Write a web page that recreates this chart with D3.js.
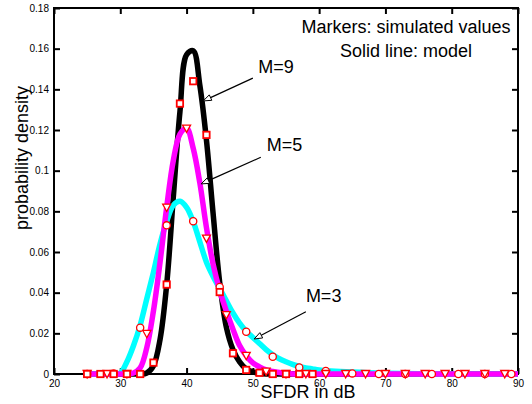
<!DOCTYPE html>
<meta charset="utf-8">

<!-- Load d3.js -->
<script src="https://d3js.org/d3.v7.min.js"></script>

<style>
body {
  margin: 0;
  background: #fff;
  font-family: "Liberation Sans", Arial, Helvetica, sans-serif;
}
</style>

<div id="chart"></div>

<script>

// Model curves (solid lines) on a common dB grid
var modelDb = [25,26,27,28,29,30,31,32,33,34,35,36,37,38,39,40,41,42,43,44,45,46,47,48,49,50,
               51,52,53,54,55,56,57,58,59,60,65,70,75,80,85,90];
var modelM9 = [0,0,0,0,0,0,0,0,0,0.0005,0.004,0.017,0.044,0.087,0.129,0.157,0.159,0.142,0.115,0.079,
               0.045,0.023,0.012,0.006,0.0025,0.001,0.0003,0,0,0,0,0,0,0,0,0,0,0,0,0,0,0];
var modelM5 = [0,0,0,0,0,0,0,0.0005,0.003,0.013,0.031,0.055,0.082,0.105,0.118,0.121,0.111,0.094,0.072,0.054,
               0.041,0.031,0.022,0.014,0.009,0.0055,0.0035,0.002,0.0012,0.0007,0.0004,0,0,0,0,0,0,0,0,0,0,0];
var modelM3 = [0,0,0,0,0,0.0005,0.006,0.014,0.024,0.037,0.050,0.064,0.075,0.083,0.085,0.082,0.075,0.065,0.055,0.048,
               0.042,0.036,0.030,0.025,0.021,0.018,0.015,0.012,0.0095,0.0075,0.006,0.0047,0.0037,0.003,0.0025,0.002,
               0.001,0.0004,0.0001,0,0,0];

// Simulated values (markers)
var simDbM9 = [25,27,29,31,33,35,37,39,41,43,45,47,49,51,53,55,57,59];
var simM9   = [0,0,0,0,0,0.0056,0.044,0.133,0.144,0.1176,0.0403,0.0102,0.002,0.0006,0,0,0,0];
var simDbM5 = [25,28,31,34,37,40,43,46,49,52,55,58,61,64,67,70,73,76,79,82,85,88];
var simM5   = [0,0,0,0.0197,0.0818,0.1207,0.0666,0.029,0.0089,0.0012,0,0,0,0,0,0,0,0,0,0,0,0];
var simDbM3 = [25,29,33,37,41,45,49,53,57,61,65,69,73,77,81,85,89];
var simM3   = [0,0.0003,0.0228,0.0731,0.0751,0.0428,0.0208,0.0085,0.0032,0.0015,0.0003,0,0,0,0,0,0];

// Ticks
var xTicks = [20,30,40,50,60,70,80,90];
var yTicks = [0,0.02,0.04,0.06,0.08,0.1,0.12,0.14,0.16,0.18];

var width = 532, height = 404;
var margin = {left: 54, right: 14, top: 8, bottom: 30};

var svg = d3.select("#chart")
  .append("svg")
    .attr("width", width)
    .attr("height", height);

var x = d3.scaleLinear().domain([20, 90]).range([margin.left, width - margin.right]);
var y = d3.scaleLinear().domain([0, 0.18]).range([height - margin.bottom, margin.top]);

var fmt = function(d){ return String(+d.toFixed(2)); };

// Axes: MATLAB style, ticks pointing inward on all four sides
var gx = svg.append("g")
  .attr("transform", "translate(0," + y(0) + ")")
  .call(d3.axisBottom(x).tickValues(xTicks).tickFormat(fmt).tickSizeInner(-6).tickSizeOuter(0).tickPadding(6));
var gy = svg.append("g")
  .attr("transform", "translate(" + x(20) + ",0)")
  .call(d3.axisLeft(y).tickValues(yTicks).tickFormat(fmt).tickSizeInner(-6).tickSizeOuter(0).tickPadding(5));
var gt = svg.append("g")
  .attr("transform", "translate(0," + y(0.18) + ")")
  .call(d3.axisTop(x).tickValues(xTicks).tickFormat("").tickSizeInner(-6).tickSizeOuter(0));
var gr = svg.append("g")
  .attr("transform", "translate(" + x(90) + ",0)")
  .call(d3.axisRight(y).tickValues(yTicks).tickFormat("").tickSizeInner(-6).tickSizeOuter(0));

[gx, gy, gt, gr].forEach(function(g){
  g.select(".domain").remove();
  g.selectAll(".tick line").attr("stroke", "#000").attr("stroke-width", 2);
  g.selectAll(".tick text")
    .attr("fill", "#000")
    .style("font-family", "'Liberation Sans', Arial, sans-serif")
    .style("font-size", "10px");
});

// plot box
svg.append("rect")
  .attr("x", x(20))
  .attr("y", y(0.18))
  .attr("width", x(90) - x(20))
  .attr("height", y(0) - y(0.18))
  .attr("fill", "none")
  .attr("stroke", "#000")
  .attr("stroke-width", 2);

// Model lines
var line = d3.line()
  .x(function(d){ return x(d[0]); })
  .y(function(d){ return y(d[1]); })
  .curve(d3.curveCatmullRom.alpha(0.5));

var models = [
  {vals: modelM9, color: "#000000"},
  {vals: modelM3, color: "#00ffff"},
  {vals: modelM5, color: "#ff00ff"}
];

models.forEach(function(m){
  svg.append("path")
    .datum(d3.zip(modelDb, m.vals))
    .attr("d", line)
    .attr("fill", "none")
    .attr("stroke", m.color)
    .attr("stroke-width", 5.5)
    .attr("stroke-linejoin", "round");
});

// Markers
var red = "#ff0000";
svg.append("g").selectAll("circle")
  .data(d3.zip(simDbM3, simM3))
  .enter().append("circle")
    .attr("cx", function(d){ return x(d[0]); })
    .attr("cy", function(d){ return y(d[1]); })
    .attr("r", 3.6)
    .attr("fill", "#fff")
    .attr("stroke", red)
    .attr("stroke-width", 1.3);

svg.append("g").selectAll("path")
  .data(d3.zip(simDbM5, simM5))
  .enter().append("path")
    .attr("d", function(d){
      var cx = x(d[0]), cy = y(d[1]);
      return "M" + (cx - 4) + "," + (cy - 3.5) + "L" + (cx + 4) + "," + (cy - 3.5) + "L" + cx + "," + (cy + 3.8) + "Z";
    })
    .attr("fill", "#fff")
    .attr("stroke", red)
    .attr("stroke-width", 1.3);

svg.append("g").selectAll("rect")
  .data(d3.zip(simDbM9, simM9))
  .enter().append("rect")
    .attr("x", function(d){ return x(d[0]) - 3.2; })
    .attr("y", function(d){ return y(d[1]) - 3.2; })
    .attr("width", 6.4)
    .attr("height", 6.4)
    .attr("fill", "#fff")
    .attr("stroke", red)
    .attr("stroke-width", 1.8);

// Annotations (in data units)
var notes = [
  {text: "M=9", at: [50.8, 0.148], tail: [50.0, 0.1455], tip: [42.52, 0.1343]},
  {text: "M=5", at: [52.1, 0.1097], tail: [51.2, 0.1066], tip: [42.2, 0.0935]},
  {text: "M=3", at: [58.0, 0.0354], tail: [58.0, 0.0306], tip: [50.2, 0.0172]}
];

notes.forEach(function(n){
  var x1 = x(n.tail[0]), y1 = y(n.tail[1]), x2 = x(n.tip[0]), y2 = y(n.tip[1]);
  var a = Math.atan2(y2 - y1, x2 - x1), L = 8, w = 3;
  var bx = x2 - L * Math.cos(a), by = y2 - L * Math.sin(a);
  svg.append("line")
    .attr("x1", x1).attr("y1", y1).attr("x2", bx).attr("y2", by)
    .attr("stroke", "#000").attr("stroke-width", 1.2);
  svg.append("path")
    .attr("d", "M" + x2 + "," + y2 +
               "L" + (bx - w * Math.sin(a)) + "," + (by + w * Math.cos(a)) +
               "L" + (bx + w * Math.sin(a)) + "," + (by - w * Math.cos(a)) + "Z")
    .attr("fill", "#fff").attr("stroke", "#000").attr("stroke-width", 1);
  svg.append("text")
    .attr("x", x(n.at[0])).attr("y", y(n.at[1]))
    .style("font-size", "18px")
    .text(n.text);
});

svg.append("text")
  .attr("x", x(73.1)).attr("y", y(0.1677))
  .attr("text-anchor", "middle")
  .style("font-size", "18px")
  .text("Markers: simulated values");
svg.append("text")
  .attr("x", x(73.1)).attr("y", y(0.156))
  .attr("text-anchor", "middle")
  .style("font-size", "18px")
  .text("Solid line: model");

// Axis titles
svg.append("text")
  .attr("x", 308).attr("y", 398)
  .attr("text-anchor", "middle")
  .style("font-size", "18px")
  .text("SFDR in dB");
svg.append("text")
  .attr("transform", "translate(28,158) rotate(-90)")
  .attr("text-anchor", "middle")
  .style("font-size", "18px")
  .text("probability density");

</script>
